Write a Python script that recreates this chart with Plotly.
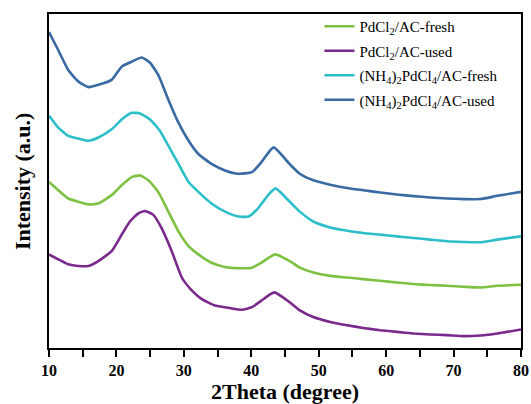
import plotly.graph_objects as go

# ---- data (intensity in arbitrary units) ----
x_nh4_used = [10.0, 11.38, 12.86, 14.35, 15.83, 17.32, 19.29, 20.78, 22.26, 23.74, 24.98, 26.2, 27.7, 29.2, 30.7,
              32.15, 34.1, 36.1, 38.1, 40.1, 41.5, 43.3, 45.7, 47.2, 49.2, 51.7, 54.2, 56.6, 59.1,
              61.6, 64.1, 66.5, 69.0, 71.5, 74.0, 76.5, 80.0]
y_nh4_used = [319.7, 301.3, 281.3, 269.7, 264.0, 266.3, 271.3, 284.7, 289.7, 294.0, 288.7, 276.3, 251.3, 228.0, 209.7,
              196.3, 186.3, 179.7, 176.3, 178.0, 188.0, 203.0, 186.0, 176.3, 169.7, 165.3, 162.0, 159.7, 157.3,
              155.3, 153.7, 152.3, 151.3, 150.7, 150.7, 154.0, 158.0]

x_nh4_fresh = [10.0, 11.38, 12.86, 14.35, 15.83, 17.32, 19.29, 20.78, 22.26, 23.5, 24.98, 26.46, 27.7, 29.2, 30.7,
               32.15, 34.1, 36.1, 38.1, 39.6, 41.0, 42.5, 43.6, 45.7, 47.2, 49.2, 51.7, 54.2, 56.6,
               59.1, 61.6, 64.1, 66.5, 69.0, 71.5, 74.0, 76.5, 80.0]
y_nh4_fresh = [235.3, 223.0, 214.7, 212.0, 209.7, 213.0, 221.3, 231.3, 238.0, 237.3, 231.3, 219.7, 204.7, 186.3, 168.0,
               158.0, 146.3, 138.0, 133.0, 133.0, 141.3, 154.7, 161.5, 148.0, 138.0, 128.0, 122.0, 118.7, 116.3,
               114.7, 113.0, 111.3, 109.7, 108.0, 107.3, 107.0, 109.7, 113.0]

x_pd_fresh = [10.0, 11.38, 12.86, 14.35, 15.83, 17.32, 19.29, 20.78, 22.26, 23.5, 24.73, 26.2, 27.7, 29.2, 30.7,
              32.15, 34.1, 36.1, 38.1, 40.1, 41.5, 43.5, 45.7, 47.2, 49.2, 51.7, 54.2, 56.6, 59.1,
              61.6, 64.1, 66.5, 69.0, 71.5, 74.0, 76.5, 80.0]
y_pd_fresh = [168.0, 159.7, 151.3, 148.0, 145.3, 146.3, 154.7, 164.7, 173.0, 174.7, 169.7, 158.0, 138.0, 118.0, 103.0,
              94.7, 86.3, 82.0, 80.7, 81.3, 86.3, 94.7, 88.0, 81.3, 76.3, 73.0, 71.3, 69.7, 68.0,
              66.3, 64.7, 63.7, 63.0, 62.0, 61.3, 63.0, 64.0]

x_pd_used = [10.0, 11.38, 12.86, 14.35, 15.83, 17.32, 19.29, 20.78, 22.0, 23.25, 24.23, 25.47, 26.7, 28.2, 29.7,
             31.2, 32.6, 34.6, 36.6, 38.6, 40.1, 41.5, 43.4, 45.7, 47.2, 49.2, 51.7, 54.2, 56.6,
             59.1, 61.6, 64.1, 66.5, 69.0, 71.5, 74.0, 76.5, 80.0]
y_pd_used = [94.7, 89.7, 84.7, 83.0, 83.0, 88.0, 98.0, 114.7, 128.0, 136.3, 138.7, 134.7, 121.3, 98.0, 71.3,
             58.0, 49.7, 43.0, 40.7, 38.7, 41.3, 48.0, 56.3, 46.3, 38.0, 31.3, 26.3, 23.0, 20.3,
             18.0, 16.3, 14.7, 13.7, 13.0, 12.0, 12.7, 14.7, 18.7]

series_names = ["PdCl<sub>2</sub>/AC-fresh", "PdCl<sub>2</sub>/AC-used",
                "(NH<sub>4</sub>)<sub>2</sub>PdCl<sub>4</sub>/AC-fresh",
                "(NH<sub>4</sub>)<sub>2</sub>PdCl<sub>4</sub>/AC-used"]
series_x = [x_pd_fresh, x_pd_used, x_nh4_fresh, x_nh4_used]
series_y = [y_pd_fresh, y_pd_used, y_nh4_fresh, y_nh4_used]
series_colors = ["#7dc143", "#7a2a8c", "#2cbfc9", "#386aa3"]

x_tick_vals = [10, 20, 30, 40, 50, 60, 70, 80]
x_tick_text = ["10", "20", "30", "40", "50", "60", "70", "80"]

fig = go.Figure()
for i, (nm, xs, ys, c) in enumerate(zip(series_names, series_x, series_y, series_colors)):
    fig.add_trace(go.Scatter(x=xs, y=ys, mode="lines", name=nm, legendgroup=f"g{i}",
                             line=dict(color=c, width=2.6, shape="spline", smoothing=0.5)))

font_family = "Liberation Serif, Times New Roman, serif"
fig.update_layout(
    width=531, height=404,
    margin=dict(l=49, r=10, t=10, b=56),
    paper_bgcolor="white", plot_bgcolor="white",
    font=dict(family=font_family, color="black"),
    showlegend=True,
    legend=dict(x=0.573, y=1.012, xanchor="left", yanchor="top",
                font=dict(family=font_family, size=15, color="black"),
                bgcolor="rgba(0,0,0,0)", tracegroupgap=2, traceorder="grouped",
                itemwidth=30),
    xaxis=dict(range=[10, 80], tickvals=x_tick_vals, ticktext=x_tick_text,
               ticks="outside", ticklen=7, tickwidth=2, tickcolor="black",
               minor=dict(dtick=5, tick0=5, ticks="outside", ticklen=7, tickwidth=2, tickcolor="black"),
               showline=True, linewidth=2, linecolor="black", mirror=True,
               showgrid=False, zeroline=False, automargin=False,
               tickfont=dict(family=font_family, size=16, color="black", weight="bold"),
               title=dict(text="<b>2Theta (degree)</b>", font=dict(family=font_family, size=22), standoff=2)),
    yaxis=dict(range=[0, 338], showticklabels=False, ticks="",
               showline=True, linewidth=2, linecolor="black", mirror=True,
               showgrid=False, zeroline=False, automargin=False),
    annotations=[dict(text="<b>Intensity (a.u.)</b>", textangle=-90, xref="paper", yref="paper",
                      x=-0.057, y=0.5, xanchor="center", yanchor="middle", showarrow=False,
                      font=dict(family=font_family, size=22, color="black"))],
)

fig.write_html("out.html", config={"displayModeBar": False},
               post_script="document.body.style.margin='0';")
